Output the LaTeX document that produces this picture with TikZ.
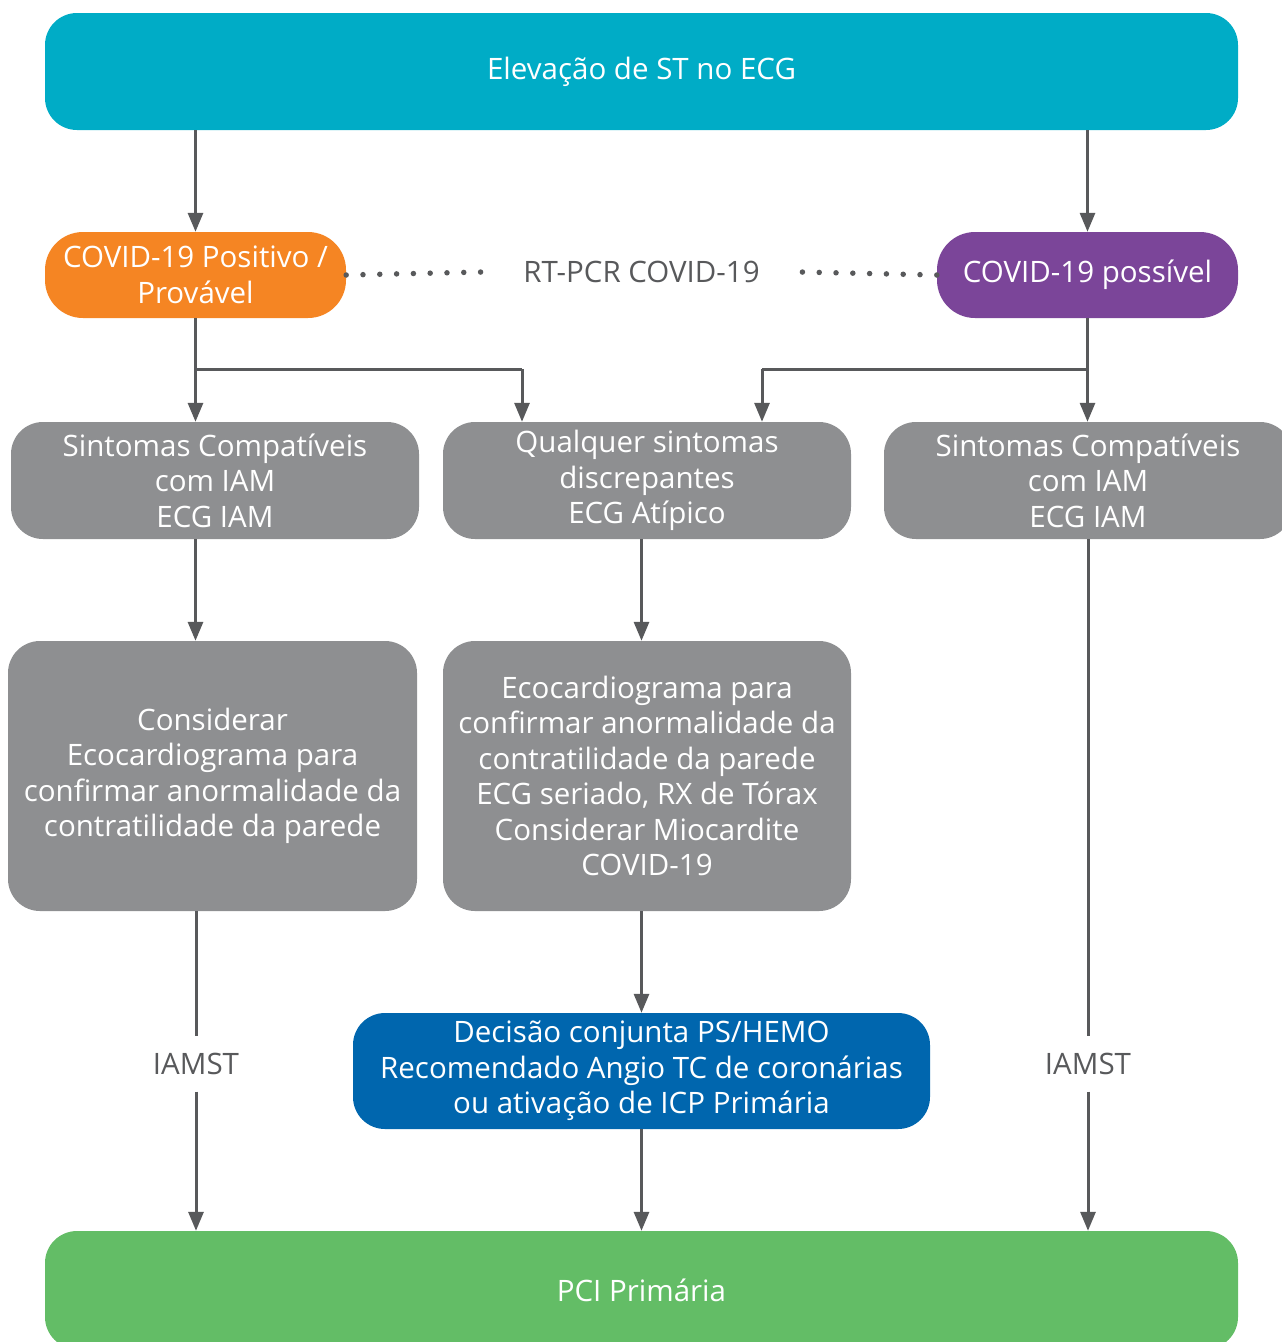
\documentclass[tikz,border=0pt]{standalone}
\usepackage{fontspec}
\setmainfont{Open Sans}[Ligatures=NoCommon]
\usetikzlibrary{arrows.meta}
\definecolor{topteal}{HTML}{00ACC6}
\definecolor{posorange}{HTML}{F58523}
\definecolor{posspurple}{HTML}{7B4599}
\definecolor{boxgray}{HTML}{8E8F91}
\definecolor{decblue}{HTML}{0066AE}
\definecolor{pcigreen}{HTML}{63BD66}
\definecolor{linegray}{HTML}{58595B}
\begin{document}
\begin{tikzpicture}[x=1pt,y=-1pt,
  box/.style={rounded corners=32pt, text=white, align=center, inner sep=0pt,
    font=\fontsize{29.5}{35.5}\selectfont},
  lbl/.style={text=linegray, inner sep=0pt, font=\fontsize{29.5}{35.5}\selectfont},
  conn/.style={draw=linegray, line width=3pt, -{Triangle[length=19pt,width=15pt]}},
  plain/.style={draw=linegray, line width=3pt},
  dotline/.style={draw=linegray, line width=5.5pt, line cap=round, dash pattern=on 0pt off 16.8pt}]
\useasboundingbox (0,0) rectangle (1282,1342);
\clip (0,0) rectangle (1282,1342);

% boxes
\node[box, fill=topteal, minimum width=1193pt, minimum height=117pt] (top) at (641.5,71.5) {Elevação de ST no ECG};
\node[box, fill=posorange, rounded corners=38pt, minimum width=301pt, minimum height=86pt] (pos) at (195.5,275) {COVID-19 Positivo /\\Provável};
\node[box, fill=posspurple, rounded corners=38pt, minimum width=301pt, minimum height=86pt] (poss) at (1087.5,275) {COVID-19 possível};
\node[lbl, minimum width=317pt, minimum height=40pt] (rtpcr) at (641.5,272) {RT-PCR COVID-19};

\node[box, fill=boxgray, minimum width=408pt, minimum height=117pt] (sympL) at (215,480.5) {Sintomas Compatíveis\\com IAM\\ECG IAM};
\node[box, fill=boxgray, minimum width=408pt, minimum height=117pt] (sympM) at (647,480.5) {Qualquer sintomas\\discrepantes\\ECG Atípico};
\node[box, fill=boxgray, minimum width=408pt, minimum height=117pt] (sympR) at (1088,480.5) {Sintomas Compatíveis\\com IAM\\ECG IAM};

\node[box, fill=boxgray, minimum width=409pt, minimum height=270pt] (consL) at (212.5,776) {Considerar\\Ecocardiograma para\\confirmar anormalidade da\\contratilidade da parede};
\node[box, fill=boxgray, minimum width=408pt, minimum height=270pt] (consM) at (647,776) {Ecocardiograma para\\confirmar anormalidade da\\contratilidade da parede\\ECG seriado, RX de Tórax\\Considerar Miocardite\\COVID-19};

\node[box, fill=decblue, minimum width=577pt, minimum height=116pt] (dec) at (641.5,1071) {Decisão conjunta PS/HEMO\\Recomendado Angio TC de coronárias\\ou ativação de ICP Primária};

\node[lbl, minimum height=55pt] (iamL) at (196,1064) {IAMST};
\node[lbl, minimum height=55pt] (iamR) at (1088,1064) {IAMST};

\node[box, fill=pcigreen, minimum width=1193pt, minimum height=118pt] (pci) at (641.5,1290) {PCI Primária};

% branch points
\coordinate (brL) at (522,369);
\coordinate (brR) at (762,369);

% connectors
\draw[conn] (top.south -| pos) -- (pos.north);
\draw[conn] (top.south -| poss) -- (poss.north);
\draw[conn] (pos.south) -- (pos.south |- sympL.north);
\draw[plain] (pos.south |- brL) -- (brL);
\draw[conn] (brL) -- (brL |- sympM.north);
\draw[conn] (poss.south) -- (poss.south |- sympR.north);
\draw[plain] (poss.south |- brR) -- (brR);
\draw[conn] (brR) -- (brR |- sympM.north);

\draw[conn] (pos.south |- sympL.south) -- (pos.south |- consL.north);
\draw[conn] (dec.north |- sympM.south) -- (dec.north |- consM.north);
\draw[conn] (dec.north |- consM.south) -- (dec.north);
\draw[conn] (dec.south) -- (dec.south |- pci.north);

\draw[plain] (iamL |- consL.south) -- (iamL.north);
\draw[conn] (iamL.south) -- (iamL.south |- pci.north);
\draw[plain] (sympR.south) -- (iamR.north);
\draw[conn] (iamR.south) -- (iamR.south |- pci.north);

% dotted link
\draw[dotline] (pos.east) -- (rtpcr.west);
\draw[dotline] (poss.west) -- (rtpcr.east);
\end{tikzpicture}
\end{document}
